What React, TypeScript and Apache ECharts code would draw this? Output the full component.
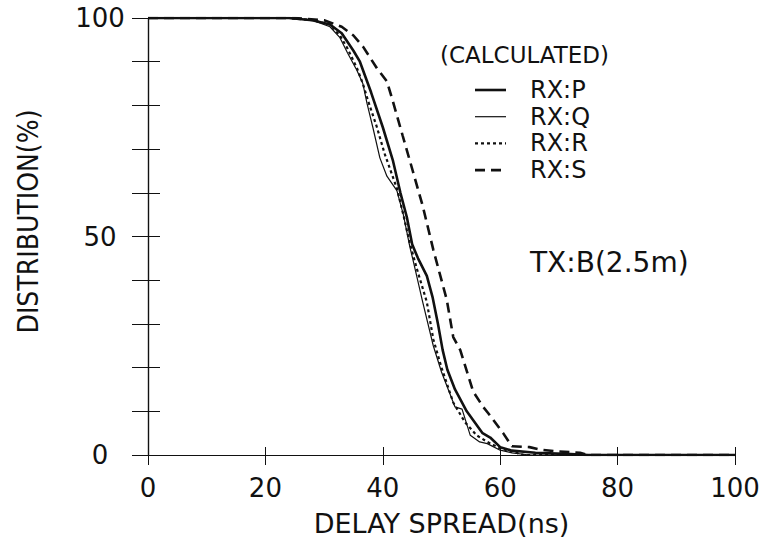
import React, { useEffect, useRef } from "react";
import * as echarts from "echarts";

// Delay spread (ns) and cumulative distribution (%)
const pDelay = [0, 24, 28, 31, 33, 35, 36.1, 38, 40, 41.7, 43, 44.1, 45, 46, 47.5, 48.5, 49.4, 50.2, 51, 52.3, 54.3, 57, 58.3, 60, 62, 66, 72, 75, 100];
const pDist = [100, 100, 99.5, 98.5, 96.5, 92.5, 90, 83, 75, 67.5, 60, 54.4, 48.2, 45, 41, 36, 30, 24, 19.5, 15, 10, 5, 4, 1.8, 1, 0.5, 0.2, 0, 0];

const qDelay = [0, 23, 28, 31, 32.7, 34, 35.6, 36.6, 37.3, 38.3, 39.5, 40.7, 42.4, 43.5, 44.6, 45.2, 46.8, 48.6, 50, 52.3, 53.5, 54.9, 56.5, 57.8, 60, 62, 65, 100];
const qDist = [100, 100, 99.5, 98, 95.5, 92, 88, 85, 80.5, 75, 68, 63.8, 60.5, 55, 47.7, 44.3, 35, 25, 19, 11, 10.5, 4.5, 3, 2.6, 1.1, 0.5, 0, 0];

const rDelay = [0, 24, 28, 31, 32.7, 34, 35.6, 36.6, 37.5, 39, 40.3, 42.4, 43.5, 44.5, 45.8, 47.5, 48.6, 50, 52, 54, 56, 57.8, 60, 62, 64, 100];
const rDist = [100, 100, 99.5, 98.5, 96, 93, 88.5, 85, 81, 75, 69, 61, 55, 49, 42.6, 35, 26.5, 20, 12, 7.5, 4.5, 3, 1.5, 0.8, 0, 0];

const sDelay = [0, 25, 30, 33, 35, 36.6, 39, 40.7, 41.7, 43.4, 45, 46.8, 48.6, 50.9, 52, 53.2, 55.4, 57.1, 58, 60.5, 62, 65, 67, 70, 73.6, 75, 100];
const sDist = [100, 100, 99.5, 98, 96, 93.5, 88.5, 85.5, 81, 73, 65.5, 57, 47, 35.5, 27, 24, 14.5, 11, 9.5, 5, 2, 1.8, 1.2, 0.8, 0.5, 0, 0];

const seriesNames = ["RX:P", "RX:Q", "RX:R", "RX:S"];
const xTicks = [0, 20, 40, 60, 80, 100];
const yLabelValues = [0, 50, 100];

const pairs = (xs: number[], ys: number[]) => xs.map((x, i) => [x, ys[i]]);

export default function App() {
  const ref = useRef<HTMLDivElement>(null);
  useEffect(() => {
    if (!ref.current) return;
    document.body.style.margin = "0";
    const chart = echarts.init(ref.current, undefined, { renderer: "svg" });
    const font = "DejaVu Sans";
    const black = "#111";
    const styles: { width: number; dash: any }[] = [
      { width: 2.6, dash: "solid" },
      { width: 1.2, dash: "solid" },
      { width: 2.2, dash: [3, 3] },
      { width: 2.6, dash: [10, 6] },
    ];
    const lineSeries = (i: number, data: number[][]) => ({
      name: seriesNames[i],
      type: "line",
      data,
      symbol: "none",
      showSymbol: false,
      xAxisIndex: 0,
      yAxisIndex: 0,
      lineStyle: { color: black, width: styles[i].width, type: styles[i].dash },
      itemStyle: { color: black },
    });
    const legendTop = 90;
    const legendStep = 26.7;
    const legendGraphics: any[] = [];
    seriesNames.forEach((n, i) => {
      const y = legendTop + i * legendStep;
      legendGraphics.push({
        type: "line",
        shape: { x1: 475, y1: y, x2: 506, y2: y },
        style: {
          stroke: black,
          lineWidth: styles[i].width,
          lineDash: Array.isArray(styles[i].dash) ? styles[i].dash : null,
        },
      });
      legendGraphics.push({
        type: "text",
        x: 530,
        y,
        style: { text: n, fontFamily: font, fontSize: 24, fill: black, verticalAlign: "middle", align: "left" },
      });
    });
    chart.setOption({
      animation: false,
      backgroundColor: "#fff",
      grid: { left: 148, right: 30, top: 18, bottom: 86 },
      xAxis: [
        {
          type: "value",
          position: "bottom",
          min: xTicks[0],
          max: xTicks[xTicks.length - 1],
          interval: 20,
          name: "DELAY SPREAD(ns)",
          nameLocation: "middle",
          nameGap: 55,
          nameTextStyle: { fontFamily: font, fontSize: 27, color: black },
          axisLine: { show: true, lineStyle: { color: black, width: 1.2 } },
          axisTick: { show: true, inside: true, length: 8, lineStyle: { color: black } },
          axisLabel: { fontFamily: font, fontSize: 26, color: black, margin: 20 },
          splitLine: { show: false },
        },
        {
          type: "value",
          position: "top",
          min: xTicks[0],
          max: xTicks[xTicks.length - 1],
          interval: 20,
          axisLine: { show: true, lineStyle: { color: black, width: 1.2 } },
          axisTick: { show: true, inside: true, length: 10, lineStyle: { color: black } },
          axisLabel: { show: false },
          splitLine: { show: false },
        },
      ],
      yAxis: [
        {
          type: "value",
          position: "left",
          min: 0,
          max: 100,
          interval: 10,
          name: "DISTRIBUTION(%)",
          nameLocation: "middle",
          nameGap: 106,
          nameTextStyle: {
            fontFamily: "Liberation Sans Narrow, DejaVu Sans Condensed, sans-serif",
            fontSize: 28,
            color: black,
            padding: [0, 0, 0, 30],
          },
          axisLine: { show: true, lineStyle: { color: black, width: 1.2 } },
          axisTick: { show: true, inside: true, length: 12, lineStyle: { color: black } },
          axisLabel: {
            fontFamily: font,
            fontSize: 26,
            color: black,
            margin: 48,
            align: "center",
            formatter: (v: number) => (yLabelValues.includes(v) ? String(v) : ""),
          },
          splitLine: { show: false },
        },
        {
          type: "value",
          position: "right",
          min: 0,
          max: 100,
          interval: 10,
          axisLine: { show: true, lineStyle: { color: black, width: 1.2 } },
          axisTick: { show: true, inside: true, length: 16, lineStyle: { color: black } },
          axisLabel: { show: false },
          splitLine: { show: false },
        },
      ],
      graphic: [
        {
          type: "text",
          x: 440,
          y: 55,
          style: { text: "(CALCULATED)", fontFamily: font, fontSize: 23, fill: black, verticalAlign: "middle" },
        },
        ...legendGraphics,
        {
          type: "text",
          x: 530,
          y: 262,
          style: { text: "TX:B(2.5m)", fontFamily: font, fontSize: 28, fill: black, verticalAlign: "middle" },
        },
      ],
      series: [
        lineSeries(0, pairs(pDelay, pDist)),
        lineSeries(1, pairs(qDelay, qDist)),
        lineSeries(2, pairs(rDelay, rDist)),
        lineSeries(3, pairs(sDelay, sDist)),
      ],
    });
    return () => chart.dispose();
  }, []);
  return <div ref={ref} style={{ width: 765, height: 542, position: "absolute", left: 0, top: 0 }} />;
}
